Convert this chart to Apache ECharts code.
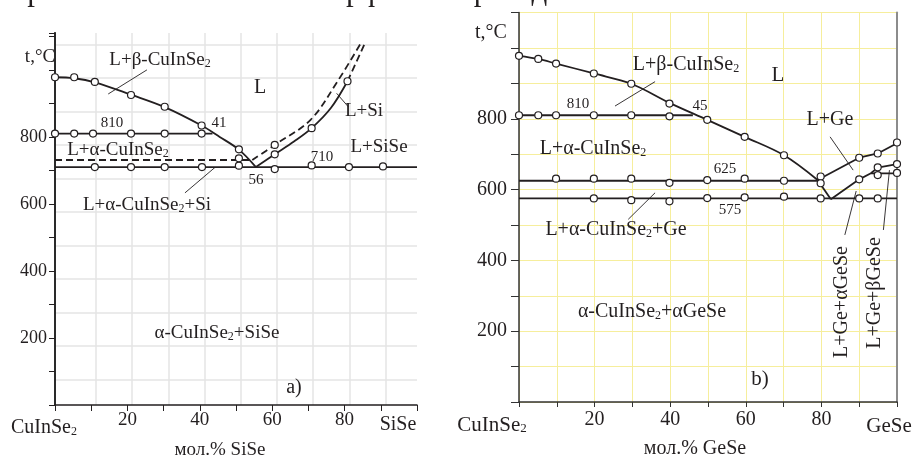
<!DOCTYPE html>
<html>
<head>
<meta charset="utf-8">
<script src="https://cdn.jsdelivr.net/npm/echarts@6.0.0/dist/echarts.min.js"></script>
<style>
  html, body { margin: 0; padding: 0; background: #fff; }
  #chart { width: 915px; height: 457px; }
</style>
</head>
<body>
<div id="chart"></div>
<script>
  // tick labels shared by both panels
  var xTickLabels = [20, 40, 60, 80];
  var yTickLabels = [200, 400, 600, 800];

  // ---- a) CuInSe2 - SiSe ----
  var aLiquidus = [[0, 978], [5.3, 975], [11, 963], [21, 926], [30.3, 889], [40.5, 834], [45.5, 800], [50.8, 762], [55.5, 710]];
  var aLiquidusSi = [[55.5, 710], [60.7, 748], [66, 786], [70.9, 826], [76.2, 886], [80.8, 966]];
  var aLiquidusSiTop = [[80.8, 966], [85.8, 1084]];
  var aDashFlat = [[0, 731], [54.5, 731]];
  var aDashCurve = [[54.5, 731], [60.7, 776], [70.6, 851], [78, 965], [84.5, 1080]];
  var aLine810 = [[0, 810], [43.5, 810]];
  var aLine710 = [[0, 710], [100, 710]];
  var aPoints = [
    [0, 978], [5.3, 978], [11, 964], [21, 925], [30.3, 890], [40.5, 834], [50.8, 763],
    [0, 810], [5.3, 810], [10.5, 810], [21, 810], [30.3, 810], [40.5, 810],
    [11, 710], [21, 710], [30.3, 710], [40.6, 710], [50.8, 714], [60.7, 704], [70.9, 715], [81.2, 710], [90.6, 712],
    [50.8, 736], [60.7, 776],
    [60.7, 748], [70.9, 826], [80.8, 966]
  ];
  var aLeaders = [
    [[14.7, 928], [25.4, 1000]],
    [[35.9, 633], [44.2, 709]],
    [[77.8, 930], [81, 890]]
  ];

  // ---- b) CuInSe2 - GeSe ----
  var bLiquidus = [[0, 978], [5.1, 969], [9.8, 956], [19.8, 928], [29.7, 899], [39.8, 845], [49.8, 797], [59.7, 749], [70.1, 697], [79, 627]];
  var bLiquidusTail = [[79, 627], [82.5, 573]];
  var bLiquidusGe = [[79, 627], [90, 690], [94.9, 702], [100, 731]];
  var bLower = [[82.5, 573], [90, 629], [93.1, 646], [94.9, 662], [100, 672]];
  var bLine646 = [[93.1, 646], [100, 646]];
  var bLine810 = [[0, 810], [46, 810]];
  var bLine625 = [[0, 625], [79, 625]];
  var bLine575 = [[0, 575], [100, 575]];
  var bPoints = [
    [0, 978], [5.1, 969], [9.8, 956], [19.8, 928], [29.7, 899], [39.8, 843], [49.8, 797], [59.7, 749], [70.1, 697], [79.8, 637],
    [0, 810], [5.1, 810], [9.8, 810], [19.8, 810], [29.7, 810], [39.8, 807],
    [9.8, 631], [19.8, 631], [29.7, 631], [39.8, 619], [49.8, 627], [59.7, 631], [70.1, 625], [79.8, 618],
    [19.8, 575], [29.7, 570], [39.8, 567], [49.8, 576], [59.7, 578], [70.1, 580], [79.8, 575], [90, 575], [94.9, 575],
    [90, 690], [94.9, 702], [100, 733],
    [90, 629], [94.9, 663], [100, 672],
    [94.9, 641], [100, 647]
  ];
  var bLeaders = [
    [[25.4, 836], [36, 905]],
    [[82.3, 749], [88.4, 655]],
    [[28.9, 516], [36, 591]],
    [[86.2, 472], [89.2, 596]],
    [[96.4, 486], [98, 655]]
  ];

  var FONT = 'Liberation Serif';
  var INK = '#231f20';
  var GREY = '#e4e4e4';
  var YELLOW = '#f6ee9c';

  // the grey grid of panel a) is printed a little off the ticks
  var greyX = [], greyY = [];
  for (var i = 0; i < 9; i++) greyX.push(11.3 + 10 * i);
  for (var j = 0; j < 11; j++) greyY.push(76 + 100 * j);

  function curve(data, g, smooth, dash, width) {
    return {
      type: 'line', xAxisIndex: g, yAxisIndex: g, data: data,
      smooth: smooth ? 0.35 : false,
      showSymbol: false, symbol: 'none', silent: true, z: 3,
      lineStyle: { color: INK, width: width || 1.8, type: dash ? [7, 4] : 'solid' }
    };
  }

  function dots(data, g) {
    return {
      type: 'scatter', xAxisIndex: g, yAxisIndex: g, data: data,
      symbol: 'circle', symbolSize: 7, silent: true, z: 5,
      itemStyle: { color: '#fff', borderColor: INK, borderWidth: 1.2, opacity: 1 }
    };
  }

  function label(x, y, text, size, rot) {
    return {
      type: 'text', x: x, y: y, rotation: rot || 0, silent: true, z: 10,
      style: {
        text: text, fill: INK, fontFamily: FONT, fontSize: size,
        align: 'center', verticalAlign: 'middle', textAlign: 'center', textVerticalAlign: 'middle',
        rich: { s: { fontSize: Math.round(size * 0.62), fontFamily: FONT, fill: INK, verticalAlign: 'bottom' } }
      }
    };
  }

  function tickFmt(list) {
    return function (v) { return list.indexOf(v) >= 0 ? String(v) : ''; };
  }

  var chart = echarts.init(document.getElementById('chart'));

  var series = [
    curve(aLiquidus, 0, true),
    curve(aLiquidusSi, 0, true),
    curve(aLiquidusSiTop, 0, false, true),
    curve(aDashFlat, 0, false, true),
    curve(aDashCurve, 0, true, true),
    curve(aLine810, 0),
    curve(aLine710, 0),
    curve(bLiquidus, 1, true),
    curve(bLiquidusTail, 1),
    curve(bLiquidusGe, 1),
    curve(bLower, 1),
    curve(bLine646, 1),
    curve(bLine810, 1),
    curve(bLine625, 1),
    curve(bLine575, 1)
  ];
  aLeaders.forEach(function (s) { series.push(curve(s, 0, false, false, 0.9)); });
  bLeaders.forEach(function (s) { series.push(curve(s, 1, false, false, 0.9)); });
  series.push(dots(aPoints, 0), dots(bPoints, 1));

  var option = {
    animation: false,
    backgroundColor: '#fff',
    grid: [
      { left: 55, top: 33, width: 362, height: 372, outerBoundsMode: 'none' },
      { left: 519, top: 12.6, width: 378, height: 389.4, outerBoundsMode: 'none' }
    ],
    xAxis: [
      {
        gridIndex: 0, type: 'value', min: 0, max: 100, interval: 10,
        axisLine: { show: true, lineStyle: { color: INK, width: 1.5 } },
        axisTick: { show: true, length: 6, lineStyle: { color: INK, width: 1 } },
        axisLabel: { formatter: tickFmt(xTickLabels), fontFamily: FONT, fontSize: 19, color: INK, margin: 6 },
        splitLine: { show: false }
      },
      {
        gridIndex: 1, type: 'value', min: 0, max: 100, interval: 10,
        axisLine: { show: true, lineStyle: { color: '#333', width: 1.5 } },
        axisTick: { show: true, length: 5, lineStyle: { color: '#333', width: 1 } },
        axisLabel: { formatter: tickFmt(xTickLabels), fontFamily: FONT, fontSize: 20, color: INK, margin: 8 },
        splitLine: { show: true, lineStyle: { color: YELLOW, width: 1 } }
      },
      {
        gridIndex: 0, type: 'value', position: 'top', min: 0, max: 100,
        axisLine: { show: false },
        axisTick: { show: false, customValues: greyX },
        axisLabel: { show: false },
        splitLine: { show: true, lineStyle: { color: GREY, width: 1.5 } }
      }
    ],
    yAxis: [
      {
        gridIndex: 0, type: 'value', min: 0, max: 1110, interval: 100,
        axisLine: { show: true, lineStyle: { color: INK, width: 1.5 } },
        axisTick: { show: true, length: 6, lineStyle: { color: INK, width: 1 } },
        axisLabel: { formatter: tickFmt(yTickLabels), fontFamily: FONT, fontSize: 18, color: INK, margin: 8 },
        splitLine: { show: false }
      },
      {
        gridIndex: 1, type: 'value', min: 0, max: 1100, interval: 100,
        axisLine: { show: true, lineStyle: { color: '#333', width: 1.5 } },
        axisTick: { show: true, length: 8, lineStyle: { color: '#333', width: 1 } },
        axisLabel: { formatter: tickFmt(yTickLabels), fontFamily: FONT, fontSize: 20, color: INK, margin: 12 },
        splitLine: { show: true, lineStyle: { color: YELLOW, width: 1 } }
      },
      {
        gridIndex: 0, type: 'value', position: 'right', min: 0, max: 1110,
        axisLine: { show: true, lineStyle: { color: '#2a2a2a', width: 2 } },
        axisTick: { show: false, customValues: greyY },
        axisLabel: { show: false },
        splitLine: { show: true, lineStyle: { color: GREY, width: 1.5 } }
      },
      {
        gridIndex: 1, type: 'value', position: 'right', min: 0, max: 1100,
        axisLine: { show: true, lineStyle: { color: '#8c8c8c', width: 2 } },
        axisTick: { show: false }, axisLabel: { show: false }, splitLine: { show: false }
      }
    ],
    series: series,
    graphic: [
      {
        type: 'text', x: 555, y: -8, silent: true,
        style: {
          text: 'при 660 °C имеет полиморфный переход.', fill: INK, fontFamily: FONT, fontSize: 31,
          align: 'right', verticalAlign: 'middle', textAlign: 'right', textVerticalAlign: 'middle'
        }
      },
      // panel a)
      label(40, 57, 't,°C', 19),
      label(160, 60, 'L+β-CuInSe{s|2}', 19),
      label(260, 88, 'L', 20),
      label(112, 123, '810', 15),
      label(219, 123, '41', 15),
      label(118, 150, 'L+α-CuInSe{s|2}', 19),
      label(379, 147, 'L+SiSe', 19),
      label(322, 157, '710', 15),
      label(256, 180, '56', 15),
      label(147, 205, 'L+α-CuInSe{s|2}+Si', 19),
      label(364, 111, 'L+Si', 19),
      label(217, 333, 'α-CuInSe{s|2}+SiSe', 19),
      label(294, 388, 'a)', 20),
      label(44, 428, 'CuInSe{s|2}', 20),
      label(398, 425, 'SiSe', 20),
      label(220, 450, 'мол.% SiSe', 19),
      // panel b)
      label(491, 33, 't,°C', 20),
      label(686, 65, 'L+β-CuInSe{s|2}', 20),
      label(778, 75, 'L', 21),
      label(578, 104, '810', 15),
      label(700, 106, '45', 15),
      label(830, 120, 'L+Ge', 20),
      label(593, 149, 'L+α-CuInSe{s|2}', 20),
      label(725, 169, '625', 15),
      label(730, 210, '575', 15),
      label(616, 230, 'L+α-CuInSe{s|2}+Ge', 20),
      label(842, 302, 'L+Ge+αGeSe', 20, Math.PI / 2),
      label(875, 293, 'L+Ge+βGeSe', 20, Math.PI / 2),
      label(652, 312, 'α-CuInSe{s|2}+αGeSe', 20),
      label(760, 379, 'b)', 21),
      label(492, 425, 'CuInSe{s|2}', 21),
      label(889, 426, 'GeSe', 21),
      label(695, 449, 'мол.% GeSe', 20)
    ]
  };

  chart.setOption(option);
</script>
</body>
</html>
